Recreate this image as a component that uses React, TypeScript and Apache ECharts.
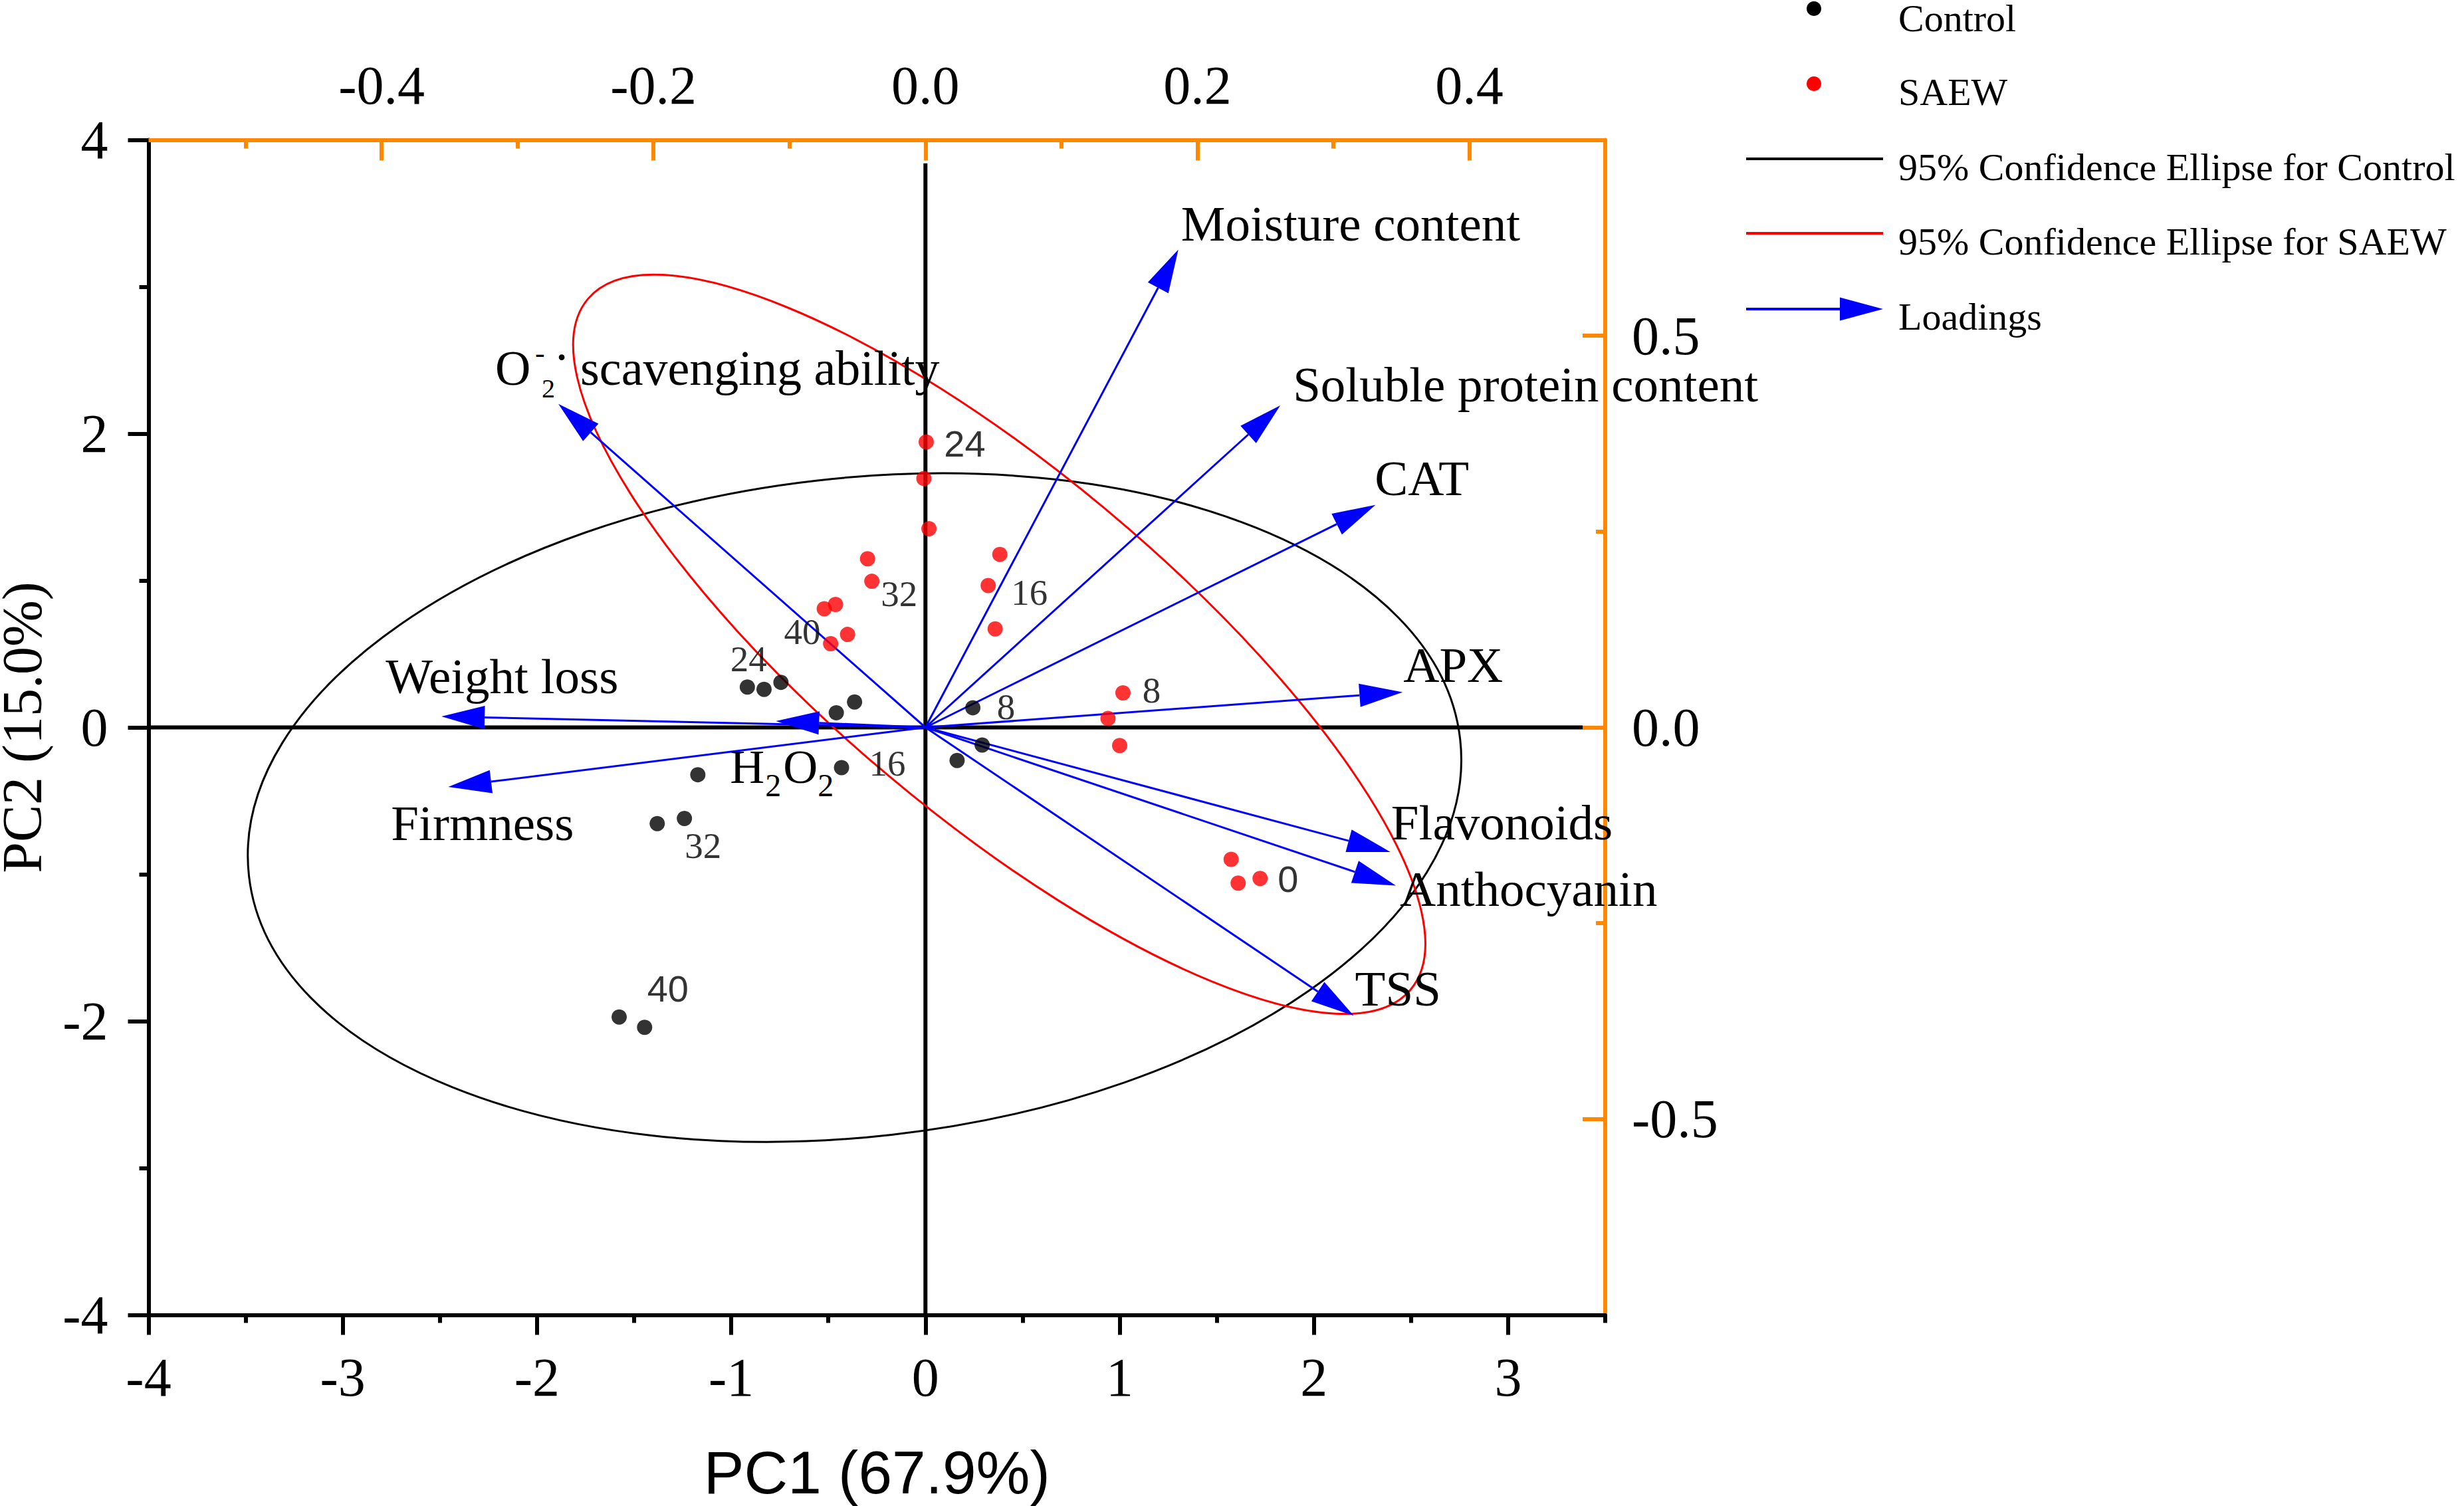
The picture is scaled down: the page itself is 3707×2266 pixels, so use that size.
import React, { useEffect, useRef } from 'react';
import * as echarts from 'echarts';

// ---------- data ----------
// PCA scores (PC1, PC2) of Control samples and storage day
const controlPC1 = [-0.917, -0.831, -0.744, -0.459, -0.365, -0.432, 0.244, 0.292, 0.163, -1.172, -1.381, -1.241, -1.577, -1.446];
const controlPC2 = [0.275, 0.259, 0.307, 0.100, 0.173, -0.274, 0.134, -0.120, -0.225, -0.322, -0.655, -0.620, -1.972, -2.042];
const controlDay = [24, 24, 24, 16, 16, 16, 8, 8, 8, 32, 32, 32, 40, 40];

// PCA scores of SAEW samples and storage day
const saewPC1 = [0.004, -0.008, 0.018, -0.298, -0.276, -0.463, -0.521, -0.401, -0.488, 0.383, 0.323, 0.359, 1.017, 0.940, 1.000, 1.574, 1.610, 1.723];
const saewPC2 = [1.943, 1.695, 1.353, 1.148, 0.995, 0.837, 0.808, 0.633, 0.570, 1.178, 0.966, 0.671, 0.235, 0.061, -0.123, -0.898, -1.060, -1.028];
const saewDay = [24, 24, 24, 32, 32, 32, 40, 40, 40, 16, 16, 16, 8, 8, 8, 0, 0, 0];

// 95% confidence ellipses: [centre PC1, centre PC2, semi-major, semi-minor, angle (deg)]
const controlEllipse = [-0.365, -0.546, 3.158, 2.226, 12.1];
const saewEllipse = [0.38, 0.566, 3.178, 1.018, -49.8];

// Loadings (top / right axes)
const loadingNames = ['Moisture content', 'Soluble protein content', 'CAT', 'APX', 'Flavonoids', 'Anthocyanin', 'TSS', 'O2- scavenging ability', 'Weight loss', 'Firmness', 'H2O2'];
const loadingPC1 = [0.186, 0.261, 0.331, 0.351, 0.342, 0.346, 0.315, -0.270, -0.356, -0.351, -0.110];
const loadingPC2 = [0.610, 0.411, 0.284, 0.045, -0.159, -0.202, -0.368, 0.413, 0.014, -0.076, 0.008];

// Axis ticks
const bottomTicks = [-4, -3, -2, -1, 0, 1, 2, 3];
const bottomMinor = [-3.5, -2.5, -1.5, -0.5, 0.5, 1.5, 2.5, 3.5];
const leftTicks = [-4, -2, 0, 2, 4];
const leftMinor = [-3, -1, 1, 3];
const topTicks = [-0.4, -0.2, 0, 0.2, 0.4];
const topMinor = [-0.5, -0.3, -0.1, 0.1, 0.3];
const rightTicks = [-0.5, 0, 0.5];
const rightMinor = [-0.25, 0.25];

// zero reference lines extents
const zeroLineXEnd = 3.384;
const zeroLineYEnd = 3.84;

// ---------- styles ----------
const SERIF = 'Liberation Serif';
const SANS = 'Liberation Sans';
const ORANGE = '#FF8800';
const BLUE = '#0000FF';

// label placement for time labels: [point index, dx, dy, font family]
const controlLabelStyle: any[] = [
  [0, 2, -42, SERIF],
  [5, 69, -7, SERIF],
  [6, 50, -1, SERIF],
  [11, 28, 41, SERIF],
  [13, 35, -58, SANS],
];
const saewLabelStyle: any[] = [
  [0, 58, 2, SANS],
  [4, 41, 19, SERIF],
  [6, -33, 35, SERIF],
  [10, 62, 10, SERIF],
  [12, 43, -4, SERIF],
  [17, 42, 1, SANS],
];

// loading label parts: [text, dx, dy, fontSize, align]
const loadingLabelParts: any[][] = [
  [['Moisture content', 4, -39, 75]],
  [['Soluble protein content', 19, -32, 75]],
  [['CAT', -1, -40, 75]],
  [['APX', 1, -41, 75]],
  [['Flavonoids', 1, -44, 75]],
  [['Anthocyanin', 6, 5, 75]],
  [['TSS', 2, -41, 75]],
  [['O', -95, -54, 74], ['-', -35, -76, 44], ['2', -25, -23, 40], ['·', 5, -71, 74, 'center'], ['scavenging ability', 33, -54, 74]],
  [['Weight loss', -84, -60, 75]],
  [['Firmness', -86, 54, 75]],
  [['H', -69, 69, 72], ['2', -16, 96, 48], ['O', 11, 69, 72], ['2', 63, 96, 48]],
];

function fmt1(v: number) {
  return Math.abs(v) < 1e-9 ? '0.0' : v.toFixed(1);
}

function buildScatter(xs: number[], ys: number[], days: number[], labels: any[]) {
  return xs.map((x, i) => {
    const item: any = { value: [x, ys[i], days[i]] };
    const l = labels.find((s) => s[0] === i);
    if (l) {
      item.label = {
        show: true,
        formatter: String(days[i]),
        position: 'inside',
        offset: [l[1], l[2]],
        fontFamily: l[3],
        fontSize: l[3] === SANS ? 56 : 55,
        color: '#000',
        align: 'center',
        verticalAlign: 'middle',
      };
    }
    return item;
  });
}

function ellipseRenderer(color: string) {
  return (params: any, api: any) => {
    const cx = api.value(0), cy = api.value(1), a = api.value(2), b = api.value(3);
    const th = (api.value(4) * Math.PI) / 180;
    const c = api.coord([cx, cy]);
    const pu = api.coord([cx + a * Math.cos(th), cy + a * Math.sin(th)]);
    const pv = api.coord([cx - b * Math.sin(th), cy + b * Math.cos(th)]);
    const ux = pu[0] - c[0], uy = pu[1] - c[1], vx = pv[0] - c[0], vy = pv[1] - c[1];
    const s11 = ux * ux + vx * vx, s22 = uy * uy + vy * vy, s12 = ux * uy + vx * vy;
    const tr = s11 + s22;
    const disc = Math.sqrt((s11 - s22) * (s11 - s22) + 4 * s12 * s12);
    const rx = Math.sqrt((tr + disc) / 2);
    const ry = Math.sqrt(Math.max((tr - disc) / 2, 0));
    const phi = 0.5 * Math.atan2(2 * s12, s11 - s22);
    return {
      type: 'ellipse',
      x: c[0],
      y: c[1],
      rotation: -phi,
      shape: { cx: 0, cy: 0, rx, ry },
      style: { fill: 'none', stroke: color, lineWidth: 3 },
    };
  };
}

function loadingRenderer(params: any, api: any) {
  const i = params.dataIndex;
  const o = api.coord([0, 0]);
  const p = api.coord([api.value(0), api.value(1)]);
  const dx = p[0] - o[0], dy = p[1] - o[1];
  const L = Math.hypot(dx, dy) || 1;
  const ux = dx / L, uy = dy / L;
  const hl = 65, hw = 17.5;
  const bx = p[0] - ux * hl, by = p[1] - uy * hl;
  const children: any[] = [
    { type: 'line', shape: { x1: o[0], y1: o[1], x2: bx, y2: by }, style: { stroke: BLUE, lineWidth: 3 } },
    {
      type: 'polygon',
      shape: { points: [[p[0], p[1]], [bx - uy * hw, by + ux * hw], [bx + uy * hw, by - ux * hw]] },
      style: { fill: BLUE },
    },
  ];
  (loadingLabelParts[i] || []).forEach((part: any) => {
    children.push({
      type: 'text',
      x: p[0] + part[1],
      y: p[1] + part[2],
      z2: 10,
      style: {
        text: part[0],
        fontSize: part[3],
        fontFamily: SERIF,
        fill: '#000',
        align: part[4] || 'left',
        verticalAlign: 'middle',
      },
    });
  });
  return { type: 'group', children };
}

function tickAxis(base: any) {
  return Object.assign(
    {
      type: 'value',
      splitLine: { show: false },
      axisPointer: { show: false },
    },
    base
  );
}

export default function App() {
  const ref = useRef<HTMLDivElement>(null);

  useEffect(() => {
    document.body.style.margin = '0';
    document.body.style.overflow = 'hidden';
    if (!ref.current) return;
    const chart = echarts.init(ref.current, null, { renderer: 'svg' });

    const labelBase = { color: '#000', fontFamily: SERIF, fontSize: 82 };
    const xMin = -4, xMax = 3.5, yMin = -4, yMax = 4;
    const tMin = -4 / 7, tMax = 0.5, rMin = -0.75, rMax = 0.75;

    const legendX = 2856;
    const legendRows = [27, 138, 251, 363, 476];
    const legendText = ['Control', 'SAEW', '95% Confidence Ellipse for Control', '95% Confidence Ellipse for SAEW', 'Loadings'];

    const option: any = {
      animation: false,
      backgroundColor: '#fff',
      textStyle: { fontFamily: SERIF },
      grid: { left: 223.5, right: 1292, top: 210.5, bottom: 287.5, containLabel: false, outerBoundsMode: 'none' },
      xAxis: [
        tickAxis({
          position: 'bottom', min: xMin, max: xMax,
          axisLine: { show: true, onZero: false, lineStyle: { color: '#000', width: 6 } },
          axisTick: { show: true, inside: false, length: 30, customValues: bottomTicks, lineStyle: { color: '#000', width: 6 } },
          axisLabel: Object.assign({ customValues: bottomTicks, margin: 53, formatter: (v: number) => String(Math.round(v)) }, labelBase),
          name: 'PC1 (67.9%)', nameLocation: 'middle', nameGap: 191,
          nameTextStyle: { fontFamily: SANS, fontSize: 91, color: '#000' },
        }),
        tickAxis({
          position: 'top', min: tMin, max: tMax,
          axisLine: { show: true, onZero: false, lineStyle: { color: ORANGE, width: 6 } },
          axisTick: { show: true, inside: true, length: 31, customValues: topTicks, lineStyle: { color: ORANGE, width: 6 } },
          axisLabel: Object.assign({ customValues: topTicks, margin: 41, formatter: fmt1 }, labelBase),
        }),
        tickAxis({
          position: 'bottom', min: xMin, max: xMax,
          axisLine: { show: false, onZero: false },
          axisTick: { show: true, inside: false, length: 12, customValues: bottomMinor, lineStyle: { color: '#000', width: 6 } },
          axisLabel: { show: false },
        }),
        tickAxis({
          position: 'top', min: tMin, max: tMax,
          axisLine: { show: false, onZero: false },
          axisTick: { show: true, inside: true, length: 13, customValues: topMinor, lineStyle: { color: ORANGE, width: 6 } },
          axisLabel: { show: false },
        }),
      ],
      yAxis: [
        tickAxis({
          position: 'left', min: yMin, max: yMax,
          axisLine: { show: true, onZero: false, lineStyle: { color: '#000', width: 6 } },
          axisTick: { show: true, inside: false, length: 31, customValues: leftTicks, lineStyle: { color: '#000', width: 6 } },
          axisLabel: Object.assign({ customValues: leftTicks, margin: 61, formatter: (v: number) => String(Math.round(v)) }, labelBase),
          name: 'PC2 (15.0%)', nameLocation: 'middle', nameGap: 159,
          nameTextStyle: { fontFamily: SERIF, fontSize: 84, lineHeight: 62, color: '#000' },
        }),
        tickAxis({
          position: 'right', min: rMin, max: rMax,
          axisLine: { show: true, onZero: false, lineStyle: { color: ORANGE, width: 6 } },
          axisTick: { show: true, inside: true, length: 34, customValues: rightTicks, lineStyle: { color: ORANGE, width: 6 } },
          axisLabel: Object.assign({ customValues: rightTicks, margin: 40, formatter: fmt1 }, labelBase),
        }),
        tickAxis({
          position: 'left', min: yMin, max: yMax,
          axisLine: { show: false, onZero: false },
          axisTick: { show: true, inside: false, length: 14, customValues: leftMinor, lineStyle: { color: '#000', width: 6 } },
          axisLabel: { show: false },
        }),
        tickAxis({
          position: 'right', min: rMin, max: rMax,
          axisLine: { show: false, onZero: false },
          axisTick: { show: true, inside: true, length: 14, customValues: rightMinor, lineStyle: { color: ORANGE, width: 6 } },
          axisLabel: { show: false },
        }),
      ],
      series: [
        {
          type: 'line', name: 'zeroX', xAxisIndex: 0, yAxisIndex: 0, symbol: 'none', silent: true, z: 1,
          lineStyle: { color: '#000', width: 6 },
          data: [[xMin, 0], [zeroLineXEnd, 0]],
        },
        {
          type: 'line', name: 'zeroY', xAxisIndex: 0, yAxisIndex: 0, symbol: 'none', silent: true, z: 1,
          lineStyle: { color: '#000', width: 6 },
          data: [[0, yMin], [0, zeroLineYEnd]],
        },
        {
          type: 'custom', name: '95% Confidence Ellipse for Control', xAxisIndex: 0, yAxisIndex: 0, z: 2, clip: false,
          renderItem: ellipseRenderer('#000'),
          encode: { x: 0, y: 1 },
          data: [controlEllipse],
        },
        {
          type: 'custom', name: '95% Confidence Ellipse for SAEW', xAxisIndex: 0, yAxisIndex: 0, z: 2, clip: false,
          renderItem: ellipseRenderer('#FF0000'),
          encode: { x: 0, y: 1 },
          data: [saewEllipse],
        },
        {
          type: 'custom', name: 'Loadings', xAxisIndex: 1, yAxisIndex: 1, z: 3, clip: false,
          renderItem: loadingRenderer,
          encode: { x: 0, y: 1 },
          data: loadingPC1.map((x, i) => ({ value: [x, loadingPC2[i]], name: loadingNames[i] })),
        },
        {
          type: 'scatter', name: 'Control', xAxisIndex: 0, yAxisIndex: 0, z: 4,
          symbol: 'circle', symbolSize: 23, itemStyle: { color: '#000' },
          data: buildScatter(controlPC1, controlPC2, controlDay, controlLabelStyle),
        },
        {
          type: 'scatter', name: 'SAEW', xAxisIndex: 0, yAxisIndex: 0, z: 4,
          symbol: 'circle', symbolSize: 23, itemStyle: { color: '#FF0000' },
          data: buildScatter(saewPC1, saewPC2, saewDay, saewLabelStyle),
        },
      ],
      graphic: [
        { type: 'circle', shape: { cx: 2729, cy: 13, r: 11 }, style: { fill: '#000' } },
        { type: 'circle', shape: { cx: 2729, cy: 126, r: 11 }, style: { fill: '#FF0000' } },
        { type: 'line', shape: { x1: 2627, y1: 239, x2: 2833, y2: 239 }, style: { stroke: '#000', lineWidth: 4 } },
        { type: 'line', shape: { x1: 2627, y1: 351, x2: 2833, y2: 351 }, style: { stroke: '#FF0000', lineWidth: 4 } },
        { type: 'line', shape: { x1: 2627, y1: 465, x2: 2770, y2: 465 }, style: { stroke: BLUE, lineWidth: 4 } },
        { type: 'polygon', shape: { points: [[2833, 465], [2768, 447.5], [2768, 482.5]] }, style: { fill: BLUE } },
        ...legendText.map((t, i) => ({
          type: 'text', x: legendX, y: legendRows[i],
          style: { text: t, fontSize: 58, lineHeight: 48, fontFamily: SERIF, fill: '#000', align: 'left', verticalAlign: 'middle' },
        })),
      ],
    };

    chart.setOption(option);
    return () => chart.dispose();
  }, []);

  return <div ref={ref} style={{ width: 3707, height: 2266 }} />;
}
